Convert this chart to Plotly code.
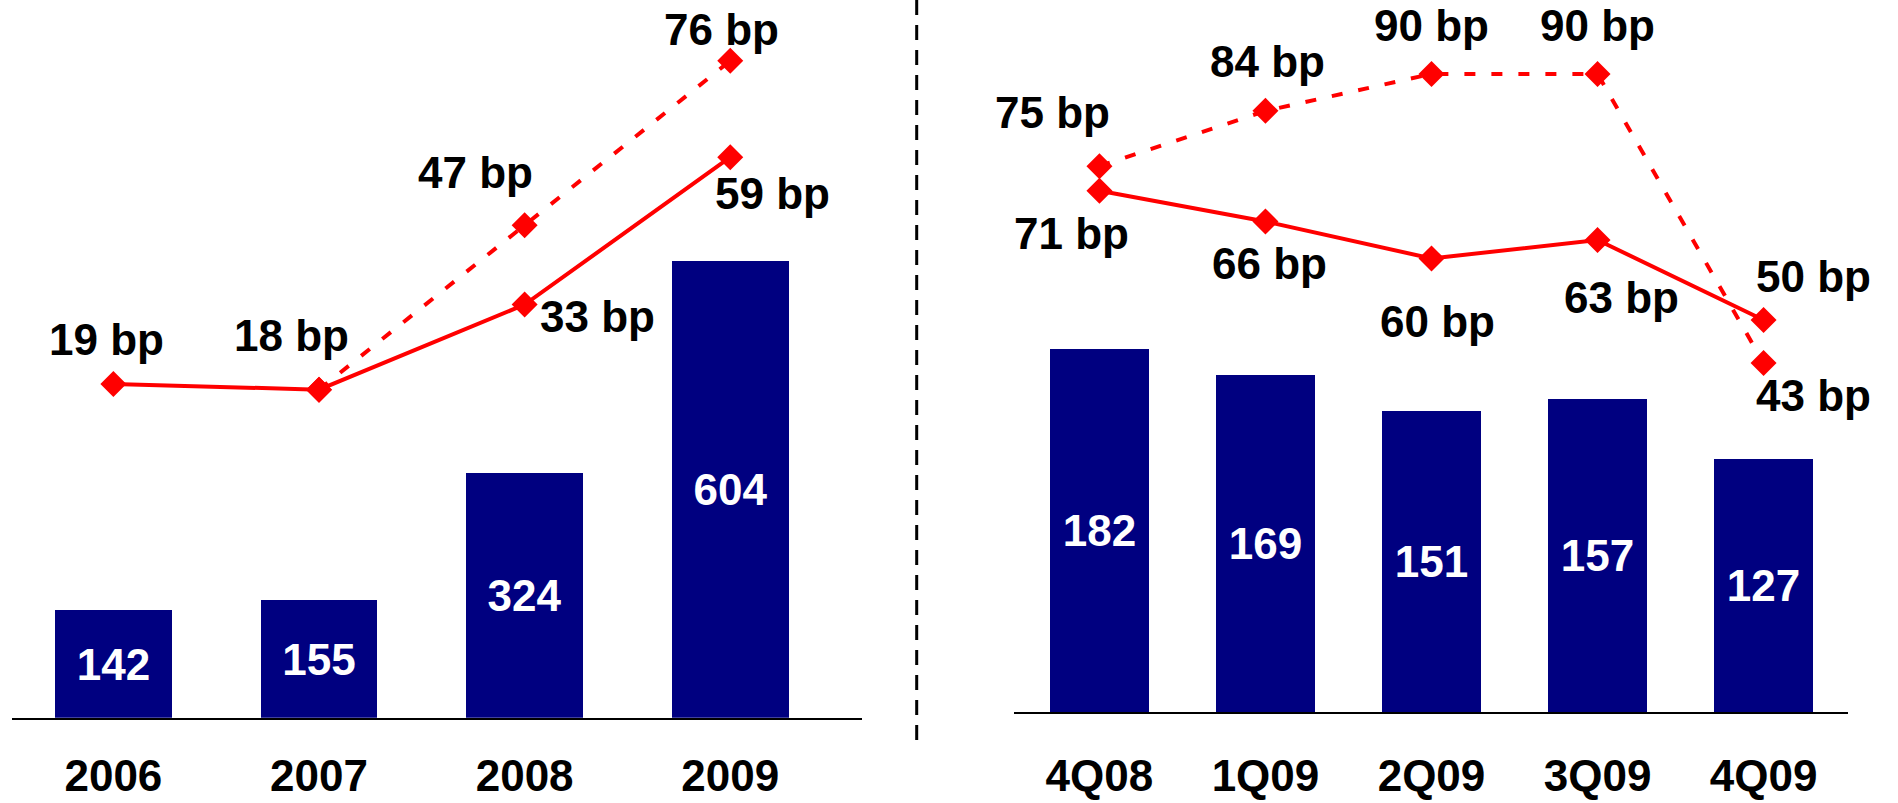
import plotly.graph_objects as go

# ---------------- data ----------------
years = ["2006", "2007", "2008", "2009"]
year_volumes = [142, 155, 324, 604]
year_solid_bp = [19, 18, 33, 59]
year_dotted_bp = [None, 18, 47, 76]

quarters = ["4Q08", "1Q09", "2Q09", "3Q09", "4Q09"]
quarter_volumes = [182, 169, 151, 157, 127]
quarter_solid_bp = [71, 66, 60, 63, 50]
quarter_dotted_bp = [75, 84, 90, 90, 43]

# ---------------- styles ----------------
NAVY = "#000080"
RED = "#FF0000"
FONT = "Liberation Sans, Arial, sans-serif"
FS = 44

# label offsets in px (dx, dy) relative to their point; dy positive = down
year_solid_off = [(-7, -44), (-28, -54), (73, 12), (42, 36)]
year_dotted_off = [None, None, (-49, -53), (-9, -31)]
quarter_solid_off = [(-28, 43), (4, 42), (6, 63), (24, 57), (50, -43)]
quarter_dotted_off = [(-47, -54), (2, -49), (0, -48), (0, -48), (50, 33)]

fig = go.Figure()

# left panel
fig.add_trace(go.Bar(
    x=years, y=year_volumes, xaxis="x", yaxis="y",
    marker=dict(color=NAVY, line=dict(width=0)), width=0.567,
    text=[str(v) for v in year_volumes], textposition="inside",
    insidetextanchor="middle", textangle=0, constraintext="none",
    textfont=dict(color="white", size=FS, family=FONT, weight="bold"),
))
fig.add_trace(go.Scatter(
    x=years, y=year_dotted_bp, xaxis="x", yaxis="y2", mode="lines+markers",
    line=dict(color=RED, width=4, dash="11px,16px"),
    marker=dict(symbol="diamond", size=20, color=RED), cliponaxis=False,
))
fig.add_trace(go.Scatter(
    x=years, y=year_solid_bp, xaxis="x", yaxis="y2", mode="lines+markers",
    line=dict(color=RED, width=4),
    marker=dict(symbol="diamond", size=20, color=RED), cliponaxis=False,
))

# right panel
fig.add_trace(go.Bar(
    x=quarters, y=quarter_volumes, xaxis="x2", yaxis="y3",
    marker=dict(color=NAVY, line=dict(width=0)), width=0.596,
    text=[str(v) for v in quarter_volumes], textposition="inside",
    insidetextanchor="middle", textangle=0, constraintext="none",
    textfont=dict(color="white", size=FS, family=FONT, weight="bold"),
))
fig.add_trace(go.Scatter(
    x=quarters, y=quarter_dotted_bp, xaxis="x2", yaxis="y4", mode="lines+markers",
    line=dict(color=RED, width=4, dash="11px,16px"),
    marker=dict(symbol="diamond", size=20, color=RED), cliponaxis=False,
))
fig.add_trace(go.Scatter(
    x=quarters, y=quarter_solid_bp, xaxis="x2", yaxis="y4", mode="lines+markers",
    line=dict(color=RED, width=4),
    marker=dict(symbol="diamond", size=20, color=RED), cliponaxis=False,
))

annotations = []


def add_labels(cats, vals, offs, xref, yref):
    # category axes: position annotations by category index
    for i, (v, o) in enumerate(zip(vals, offs)):
        if v is None or o is None:
            continue
        annotations.append(dict(
            x=i, y=v, xref=xref, yref=yref, text=f"{v} bp", showarrow=False,
            xanchor="center", yanchor="middle", xshift=o[0], yshift=-o[1],
            font=dict(size=FS, family=FONT, color="black", weight="bold"),
        ))


add_labels(years, year_solid_bp, year_solid_off, "x", "y2")
add_labels(years, year_dotted_bp, year_dotted_off, "x", "y2")
add_labels(quarters, quarter_solid_bp, quarter_solid_off, "x2", "y4")
add_labels(quarters, quarter_dotted_bp, quarter_dotted_off, "x2", "y4")

xaxis_common = dict(
    type="category", showline=True, linecolor="black", linewidth=2,
    ticks="", showgrid=False, zeroline=False, fixedrange=True, automargin=False,
    tickfont=dict(size=FS, family=FONT, color="black", weight="bold"),
)
yaxis_hidden = dict(visible=False, showgrid=False, zeroline=False,
                    fixedrange=True, automargin=False)

fig.update_layout(
    width=1898, height=803,
    margin=dict(l=0, r=0, t=0, b=0, autoexpand=False),
    paper_bgcolor="white", plot_bgcolor="rgba(0,0,0,0)",
    showlegend=False, hovermode=False, bargap=0,
    xaxis=dict(domain=[0.00632, 0.4542], anchor="y", range=[-0.493, 3.641],
               ticklabelstandoff=19, **xaxis_common),
    yaxis=dict(domain=[0.10623, 1], anchor="x", range=[0, 949], **yaxis_hidden),
    yaxis2=dict(overlaying="y", anchor="x", range=[-39.86, 86.72], **yaxis_hidden),
    xaxis2=dict(domain=[0.5342, 0.9737], anchor="y3", range=[-0.515, 4.509],
                ticklabelstandoff=24, **xaxis_common),
    yaxis3=dict(domain=[0.11295, 1], anchor="x2", range=[0, 356.5], **yaxis_hidden),
    yaxis4=dict(overlaying="y3", anchor="x2", range=[-13.81, 102.03], **yaxis_hidden),
    annotations=annotations,
    shapes=[dict(type="line", xref="paper", yref="paper",
                 x0=916.7 / 1898, x1=916.7 / 1898, y0=63 / 803, y1=1,
                 line=dict(color="black", width=3, dash="15px,10px"))],
)

fig.write_html("out.html", config={"displayModeBar": False})
